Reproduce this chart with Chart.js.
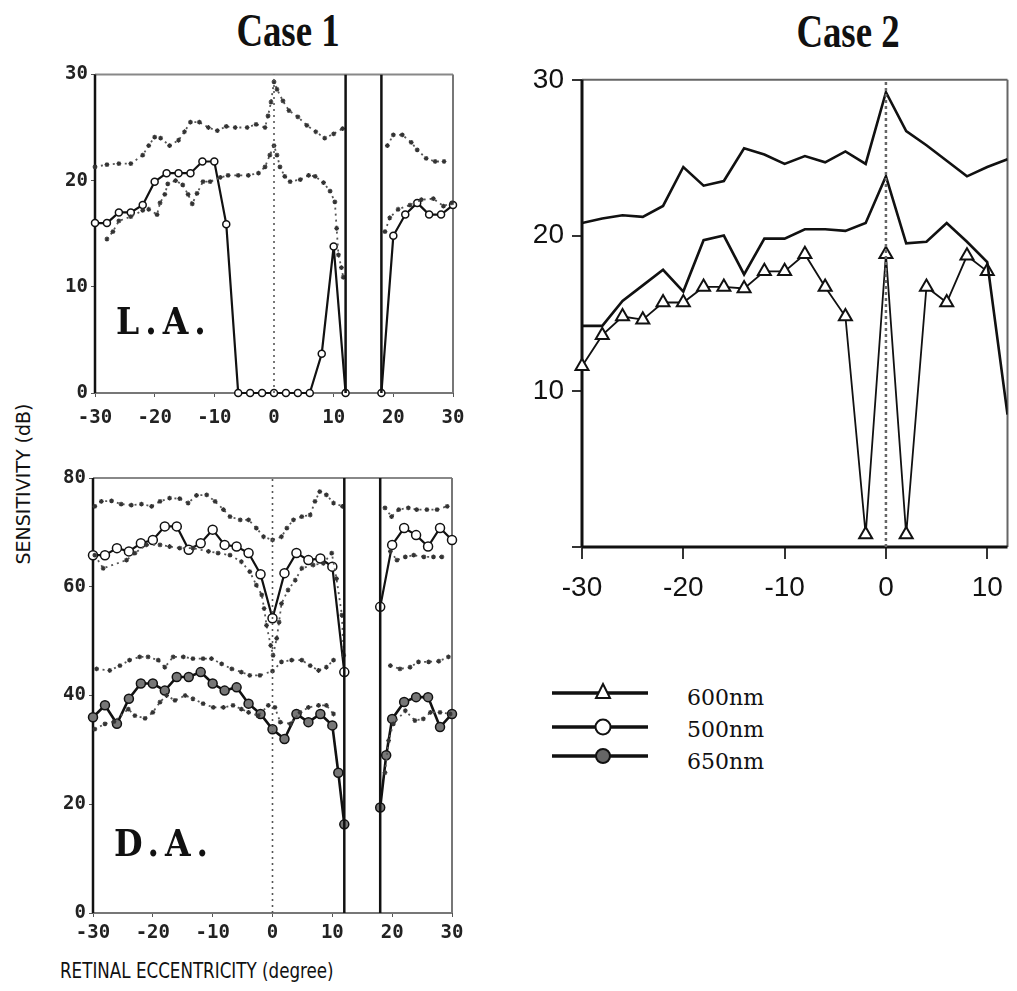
<!DOCTYPE html>
<html>
<head>
<meta charset="utf-8">
<script src="https://cdn.jsdelivr.net/npm/chart.js@4.4.1/dist/chart.umd.min.js"></script>
<style>
  body { margin: 0; background: #fff; }
  #page { position: relative; width: 1017px; height: 991px; overflow: hidden; background: #fff; }
  canvas { position: absolute; }
  .txt { position: absolute; white-space: nowrap; color: #111; }
  .title { font-family: "Liberation Serif", serif; font-weight: bold; font-size: 46px; line-height: 46px;
           transform: translate(-50%, -50%) scaleX(0.8); }
  .panel { font-family: "DejaVu Serif", serif; font-weight: bold; font-size: 33px; line-height: 33px;
           letter-spacing: 6px; transform: translateY(-50%) scaleY(1.15); transform-origin: left center; }
  .axis { font-family: "DejaVu Sans", sans-serif; font-size: 19px; line-height: 19px; }
  .leg { font-family: "DejaVu Serif", serif; font-size: 22px; line-height: 22px; transform: translateY(-50%); }
</style>
</head>
<body>
<div id="page">
  <div class="txt title" style="left:288px; top:31px;">Case 1</div>
  <div class="txt title" style="left:848px; top:32px;">Case 2</div>

  <canvas id="la" width="440" height="380" style="left:40px; top:60px;"></canvas>
  <canvas id="da" width="440" height="488" style="left:40px; top:460px;"></canvas>
  <canvas id="c2" width="517" height="550" style="left:500px; top:55px;"></canvas>

  <div class="txt panel" style="left:116px; top:321px;">L.A.</div>
  <div class="txt panel" style="left:114px; top:843px;">D.A.</div>

  <div class="txt axis" style="left:23px; top:484px; font-size:20px; line-height:20px; transform: translate(-50%, -50%) rotate(-90deg) scaleX(0.95);">SENSITIVITY (dB)</div>
  <div class="txt axis" style="left:60px; top:960px; font-size:22px; line-height:22px; transform: scaleX(0.76); transform-origin: left center;">RETINAL ECCENTRICITY (degree)</div>

  <svg style="position:absolute; left:540px; top:675px;" width="120" height="100">
    <line x1="12" y1="18" x2="108" y2="18" stroke="#111" stroke-width="3.5"/>
    <polygon points="63,9 70,23 56,23" fill="#fff" stroke="#111" stroke-width="2"/>
    <line x1="12" y1="52" x2="108" y2="52" stroke="#111" stroke-width="3.5"/>
    <circle cx="63" cy="52" r="7.5" fill="#fff" stroke="#111" stroke-width="2"/>
    <line x1="12" y1="81" x2="108" y2="81" stroke="#111" stroke-width="3.5"/>
    <circle cx="63" cy="81" r="7" fill="#666" stroke="#111" stroke-width="2"/>
  </svg>
  <div class="txt leg" style="left:687px; top:698px;">600nm</div>
  <div class="txt leg" style="left:687px; top:730px;">500nm</div>
  <div class="txt leg" style="left:687px; top:762px;">650nm</div>
</div>

<script>
// retinal eccentricity grid (degrees) used by the Case 1 solid curves
const ECC = [-30, -28, -26, -24, -22, -20, -18, -16, -14, -12, -10, -8, -6, -4, -2, 0,
             2, 4, 6, 8, 10, 12, 14, 16, 18, 20, 22, 24, 26, 28, 30];
const BLIND_SPOT = [12, 18];
const CASE1_X_TICKS = [-30, -20, -10, 0, 10, 20, 30];
const LA_Y_TICKS = [0, 10, 20, 30];
const DA_Y_TICKS = [0, 20, 40, 60, 80];

// Case 1, light adapted (L.A.)
const LA_500 = [16, 16, 17, 17, 17.7, 19.9, 20.7, 20.7, 20.7, 21.8, 21.8, 15.9, 0, 0, 0, 0,
                0, 0, 0, 3.7, 13.8, 0, null, null, 0, 14.8, 16.8, 17.9, 16.8, 16.8, 17.7];
const LA_UP_X = [-30, -28, -26, -24, -22, -21, -20, -19, -17.5, -16, -15, -14, -12.5, -11, -9.5,
                 -8, -6.5, -4.5, -3, -1.5, -1, -0.5, 0, 0.5, 1.5, 2.5, 4, 5.5, 7, 8.5, 10, 11.5,
                 15, 19, 20, 21.5, 23, 24, 25.5, 27, 28.5];
const LA_UP = [21.3, 21.5, 21.6, 21.6, 22.4, 23.3, 24.1, 24.0, 23.3, 23.8, 24.6, 25.5, 25.5, 25.0, 24.7,
               25.1, 25.0, 25.0, 25.3, 25.0, 26.1, 27.4, 29.3, 28.6, 27.5, 26.6, 26.0, 25.2, 24.6, 24.0, 24.4, 24.9,
               null, 23.3, 24.3, 24.3, 23.6, 22.9, 22.1, 21.8, 21.8];
const LA_LOW_X = [-28, -27, -26, -24, -22, -21, -19.6, -19.1, -18.3, -17.8, -16.5, -15.3, -14.4, -13.7, -12.9,
                  -11.9, -10.7, -9, -7.7, -6, -4.3, -2.6, -1.5, -0.7, 0, 0.5, 1, 1.8, 2.7, 4.4,
                  5.8, 6.9, 8.3, 9.4, 10.2, 10.5, 10.8, 11.3, 11.6,
                  15, 18.6, 19.4, 20.8, 22.8, 24.7, 26.7, 28.4, 29.8];
const LA_LOW = [14.5, 15.2, 16.2, 16.6, 17.2, 17.3, 16.8, 17.9, 18.7, 19.7, 20.0, 19.6, 18.7, 17.8, 18.8,
                19.9, 19.9, 20.3, 20.5, 20.5, 20.5, 20.7, 21.3, 22.4, 23.3, 22.4, 21.3, 20.4, 19.9, 20.1,
                20.5, 20.4, 19.8, 19.0, 18.0, 15.5, 13.0, 11.8, 10.9,
                null, 15.2, 16.5, 17.3, 17.7, 18.2, 18.3, 17.6, 17.9];

// Case 1, dark adapted (D.A.)
const DA_500 = [65.8, 65.8, 67.1, 66.5, 68, 68.6, 71.1, 71.1, 66.8, 68, 70.5, 67.7, 67.4, 66.2, 62.3, 54.2,
                62.5, 66.2, 64.9, 65.2, 63.7, 44.3, null, null, 56.3, 67.7, 70.8, 69.5, 67.4, 70.8, 68.6];
const DA_650_X = [-30, -28, -26, -24, -22, -20, -18, -16, -14, -12, -10, -8, -6, -4, -2, 0,
                  2, 4, 6, 8, 10, 11, 12, 15, 18, 19, 20, 22, 24, 26, 28, 30];
const DA_650 = [36, 38.2, 34.8, 39.4, 42.2, 42.2, 40.9, 43.4, 43.4, 44.3, 42.2, 40.9, 41.5, 38.5, 36.6, 33.8,
                32, 36.6, 35.1, 36.6, 34.5, 25.8, 16.3, null, 19.4, 29, 35.7, 38.8, 39.7, 39.7, 34.2, 36.6];
const DA_UP500_X = [-29.7, -28.6, -26.9, -25.3, -23.6, -21.9, -20.2, -18.8, -17.2, -15.5, -14.1, -12.7, -11, -9.6, -8.2,
                    -7.1, -5.4, -4, -2.7, -1.5, 0, 1.5, 2.4, 3.5, 4.9, 6.3, 7.1, 7.9, 9, 10.2, 11.7,
                    15, 18.8, 19.9, 21.1, 22.7, 24.1, 25.8, 27.5, 29.2];
const DA_UP500 = [74.8, 75.7, 75.8, 75.2, 75, 75.2, 74.8, 75.7, 76.3, 76.2, 75.4, 76.8, 76.9, 75.7, 74.2,
                  72.9, 72.3, 72.3, 70.8, 69.2, 68.6, 69.2, 70.8, 72.3, 72.9, 73.2, 75.7, 77.5, 76.9, 75.4, 74.8,
                  null, 74.5, 72.9, 74.2, 74.5, 74.2, 74.2, 74.2, 74.8];
const DA_LOW500_X = [-29.7, -28.3, -24.4, -23, -21.1, -18.8, -17.2, -15.5, -13.3, -10.7, -9.1, -7.1, -5.2, -3.8, -2.7,
                     -1.8, -1.4, -1, -0.3, 0.1, 0.7, 1.1, 1.5, 2.6, 3.8, 4.9, 6.8, 8.5, 9.9, 10.7, 11.6, 11.9,
                     15, 19.7, 20.8, 22.2, 23.6, 25.3, 26.9, 28.3];
const DA_LOW500 = [65.8, 63.4, 64.9, 66.2, 67.7, 67.7, 67.4, 67.1, 67.1, 66.5, 66.2, 65.8, 64.6, 62.8, 60.3,
                   58.5, 56, 52.9, 49.2, 47.4, 50.5, 53.5, 56.9, 59.4, 61.2, 63.4, 64, 64.3, 66.2, 61.5, 54.8, 47.4,
                   null, 66.5, 64.9, 65.5, 65.8, 65.5, 65.5, 65.5];
const DA_UP650_X = [-29.4, -27.2, -25.5, -23.9, -22.2, -20.8, -19.1, -18, -16.6, -14.9, -13.3, -11.6, -10.2, -8.5, -6.8,
                    -5.2, -3.8, -2.1, 0, 1.5, 3.2, 4.9, 6.3, 7.7, 9, 10.2,
                    15, 19.7, 21.3, 23, 24.4, 26.1, 27.8, 29.4];
const DA_UP650 = [44.9, 44.6, 45.5, 46.5, 47.1, 47.1, 46.5, 45.2, 47.1, 47.1, 46.8, 46.8, 46.8, 45.8, 44.9,
                  44.3, 43.7, 43.7, 44.5, 46.2, 46.5, 46.5, 45.5, 44.6, 45.2, 46.5,
                  null, 45.5, 44.9, 45.2, 46.2, 46.2, 46.3, 47.1];
const DA_LOW650_X = [-29.7, -28, -26.5, -24.1, -23, -21.3, -20, -18.8, -17.7, -16.3, -14.6, -13.3, -11.6, -9.9, -8.2,
                     -6.6, -5.2, -4, -2.4, -0.7, 0.4, 1.3, 3, 4.6, 6, 7.7, 9, 10.2,
                     15, 18.8, 19.4, 20.2, 22.2, 23.8, 25.2, 26.4, 28, 29.7];
const DA_LOW650 = [33.8, 34.8, 35.2, 37.5, 36.3, 35.8, 36.9, 38.8, 40, 39.1, 40, 39.4, 38.5, 37.8, 37.8,
                   38.2, 37.5, 36.9, 36.3, 38.2, 37.8, 35.1, 34.8, 36.9, 37.8, 38.2, 38.2, 36.6,
                   null, 25.8, 31.7, 34.8, 37.2, 35.4, 35.7, 36.9, 36.9, 36.6];

// Case 2
const C2_X = [-30, -28, -26, -24, -22, -20, -18, -16, -14, -12, -10, -8, -6, -4, -2, 0, 2, 4, 6, 8, 10, 12];
const C2_UPPER = [20.8, 21.1, 21.3, 21.2, 21.9, 24.4, 23.2, 23.5, 25.6, 25.2, 24.6, 25.1, 24.7, 25.4, 24.6, 29.2,
                  26.7, 25.8, 24.8, 23.8, 24.4, 24.9];
const C2_MIDDLE = [14.2, 14.2, 15.8, 16.8, 17.8, 16.4, 19.7, 20.0, 17.5, 19.8, 19.8, 20.4, 20.4, 20.3, 20.8, 23.8,
                   19.5, 19.6, 20.8, 19.6, 18.3, 8.5];
const C2_600 = [11.6, 13.6, 14.8, 14.6, 15.7, 15.7, 16.7, 16.7, 16.6, 17.7, 17.7, 18.8, 16.7, 14.8, 0.8, 18.8,
                0.8, 16.7, 15.7, 18.7, 17.7, null];
const C2_X_TICKS = [-30, -20, -10, 0, 10];
const C2_Y_TICKS = [0, 10, 20, 30];

const pts = (xs, ys) => xs.map((x, i) => ({ x: x, y: ys[i] }));
const vline = (x, y0, y1) => [{ x: x, y: y0 }, { x: x, y: y1 }];

const framePlugin = {
  id: "frame",
  beforeDatasetsDraw(chart, args, opts) {
    const a = chart.chartArea;
    const ctx = chart.ctx;
    const side = (s, x0, y0, x1, y1) => {
      ctx.save();
      ctx.strokeStyle = s.color;
      ctx.lineWidth = s.width;
      ctx.beginPath();
      ctx.moveTo(x0, y0);
      ctx.lineTo(x1, y1);
      ctx.stroke();
      ctx.restore();
    };
    side(opts.top, a.left, a.top, a.right, a.top);
    side(opts.right, a.right, a.top, a.right, a.bottom);
    side(opts.bottom, a.left, a.bottom, a.right, a.bottom);
    side(opts.left, a.left, a.top, a.left, a.bottom);
  }
};

function dotted(data) {
  return {
    data: data, borderColor: "#555", borderWidth: 1.8, borderDash: [2, 4],
    pointStyle: "star", pointRadius: 2.4, pointBorderColor: "#333", pointBorderWidth: 1.2,
    pointBackgroundColor: "#333", tension: 0, clip: false
  };
}
function solid(data, radius, fill, width) {
  return {
    data: data, borderColor: "#111", borderWidth: width, pointStyle: "circle",
    pointRadius: radius, pointBackgroundColor: fill, pointBorderColor: "#111",
    pointBorderWidth: 1.5, tension: 0, clip: false
  };
}
function wall(x, yMax) {
  return { data: vline(x, 0, yMax), borderColor: "#111", borderWidth: 2.5, pointRadius: 0 };
}
function centreLine(yMax) {
  return { data: vline(0, 0, yMax), borderColor: "#555", borderWidth: 1.6, borderDash: [2, 4], pointRadius: 0 };
}

function case1Options(yMax, yTicks, pad, yWidth, xHeight, xPad) {
  const tickFont = { family: "DejaVu Sans Mono", size: 19, weight: "bold" };
  return {
    responsive: false,
    animation: false,
    layout: { padding: pad },
    scales: {
      x: {
        type: "linear", min: -30, max: 30,
        afterBuildTicks: (axis) => { axis.ticks = CASE1_X_TICKS.map(v => ({ value: v })); },
        afterFit: (axis) => { axis.height = xHeight; },
        ticks: { font: tickFont, color: "#222", padding: xPad, maxRotation: 0 },
        grid: { drawOnChartArea: false, tickLength: 4, color: "#555" },
        border: { display: false }
      },
      y: {
        min: 0, max: yMax,
        afterBuildTicks: (axis) => { axis.ticks = yTicks.map(v => ({ value: v })); },
        afterFit: (axis) => { axis.width = yWidth; },
        ticks: { font: tickFont, color: "#222", padding: 3 },
        grid: { drawOnChartArea: false, tickLength: 4, color: "#555" },
        border: { display: false }
      }
    },
    plugins: {
      legend: { display: false },
      tooltip: { enabled: false },
      frame: {
        left: { color: "#111", width: 2.5 },
        bottom: { color: "#777", width: 2 },
        top: { color: "#888", width: 2 },
        right: { color: "#777", width: 2 }
      }
    }
  };
}

new Chart(document.getElementById("la"), {
  type: "line",
  data: {
    datasets: [
      centreLine(30),
      wall(BLIND_SPOT[0], 30),
      wall(BLIND_SPOT[1], 30),
      dotted(pts(LA_UP_X, LA_UP)),
      dotted(pts(LA_LOW_X, LA_LOW)),
      solid(pts(ECC, LA_500), 3.5, "#fff", 2.2)
    ]
  },
  options: case1Options(30, LA_Y_TICKS, { top: 12, right: 27, left: 0, bottom: 0 }, 55, 47, 10),
  plugins: [framePlugin]
});

new Chart(document.getElementById("da"), {
  type: "line",
  data: {
    datasets: [
      centreLine(80),
      wall(BLIND_SPOT[0], 80),
      wall(BLIND_SPOT[1], 80),
      dotted(pts(DA_UP500_X, DA_UP500)),
      dotted(pts(DA_LOW500_X, DA_LOW500)),
      dotted(pts(DA_UP650_X, DA_UP650)),
      dotted(pts(DA_LOW650_X, DA_LOW650)),
      solid(pts(ECC, DA_500), 4.5, "#fff", 2.2),
      solid(pts(DA_650_X, DA_650), 4.5, "#777", 2.6)
    ]
  },
  options: case1Options(80, DA_Y_TICKS, { top: 18, right: 28, left: 0, bottom: 0 }, 53, 35, 5),
  plugins: [framePlugin]
});

const c2Font = { family: "Liberation Sans", size: 28 };
new Chart(document.getElementById("c2"), {
  type: "line",
  data: {
    datasets: [
      { data: vline(0, 0, 30), borderColor: "#666", borderWidth: 2.5, borderDash: [3, 3], pointRadius: 0 },
      { data: pts(C2_X, C2_UPPER), borderColor: "#111", borderWidth: 2.6, pointRadius: 0, tension: 0 },
      { data: pts(C2_X, C2_MIDDLE), borderColor: "#111", borderWidth: 2.6, pointRadius: 0, tension: 0 },
      { data: pts(C2_X, C2_600), borderColor: "#111", borderWidth: 1.8, tension: 0, clip: false,
        pointStyle: "triangle", pointRadius: 7.5, pointBackgroundColor: "#fff",
        pointBorderColor: "#111", pointBorderWidth: 2 }
    ]
  },
  options: {
    responsive: false,
    animation: false,
    layout: { padding: { top: 17, right: 4, left: 0, bottom: 0 } },
    scales: {
      x: {
        type: "linear", min: -30, max: 12,
        afterBuildTicks: (axis) => { axis.ticks = C2_X_TICKS.map(v => ({ value: v })); },
        afterFit: (axis) => { axis.height = 58; },
        ticks: { font: c2Font, color: "#111", padding: 12, maxRotation: 0 },
        grid: { drawOnChartArea: false, tickLength: 12, color: "#333", lineWidth: 2 },
        border: { display: false }
      },
      y: {
        min: 0, max: 30,
        afterBuildTicks: (axis) => { axis.ticks = C2_Y_TICKS.map(v => ({ value: v })); },
        afterFit: (axis) => { axis.width = 82; },
        ticks: { font: c2Font, color: "#111", padding: 8, callback: (v) => (v === 0 ? "" : v) },
        grid: { drawOnChartArea: false, tickLength: 10, color: "#333", lineWidth: 2 },
        border: { display: false }
      }
    },
    plugins: {
      legend: { display: false },
      tooltip: { enabled: false },
      frame: {
        left: { color: "#111", width: 3 },
        bottom: { color: "#111", width: 3 },
        top: { color: "#666", width: 2 },
        right: { color: "#666", width: 2 }
      }
    }
  },
  plugins: [framePlugin]
});
</script>
</body>
</html>
